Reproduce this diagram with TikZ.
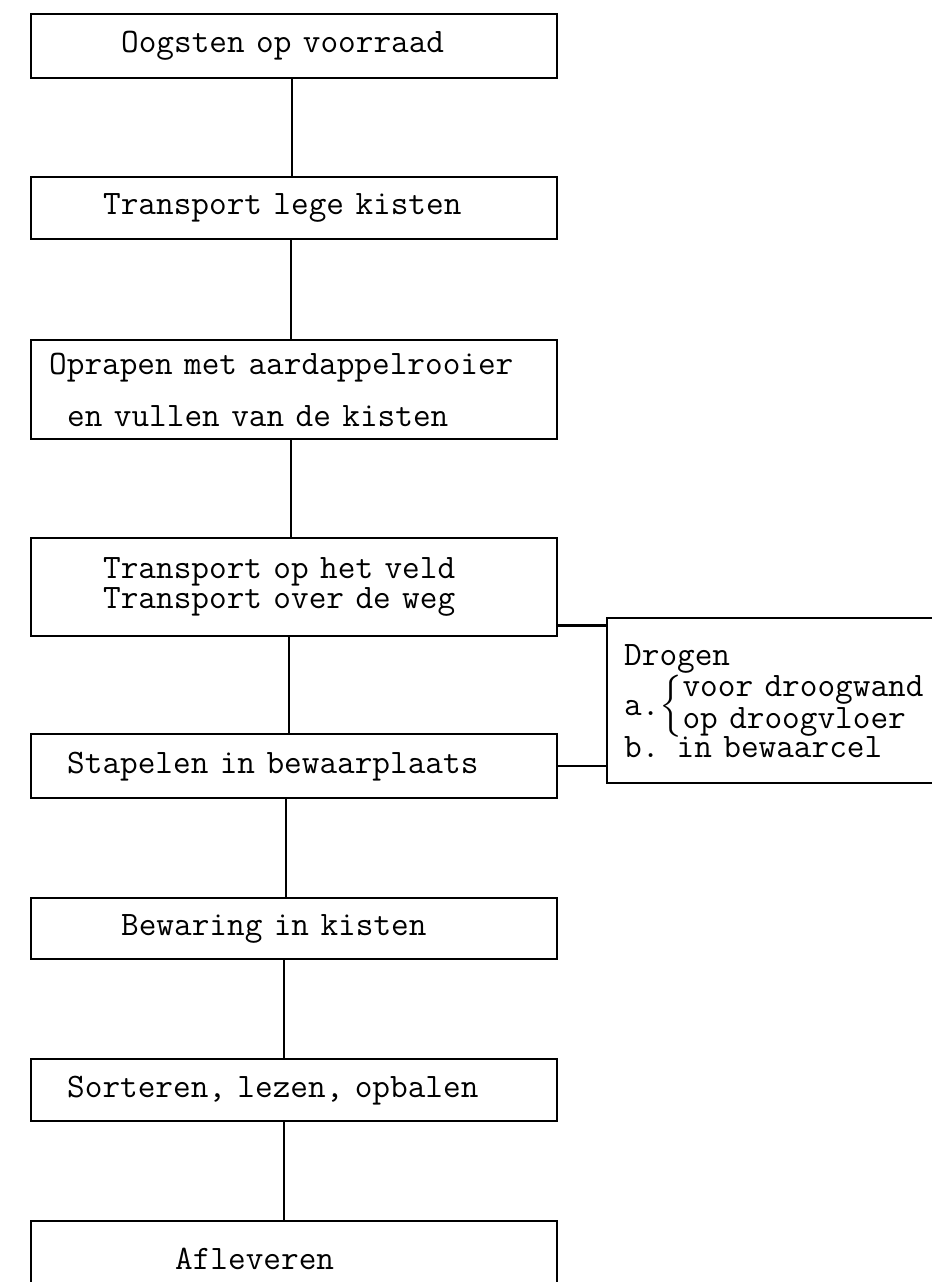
\documentclass[tikz,border=0pt]{standalone}
\usepackage{fontspec}
\usepackage{amsmath}
\newcommand{\ind}[1]{\hspace*{#1\dimexpr0.525em\relax}} % typed spaces

\begin{document}
\begin{tikzpicture}[
    x=0.5pt, y=-0.5pt,
    stepbox/.style={
        draw,
        line width=1.2pt,
        anchor=north west,
        minimum width=263pt,
        text width=263pt,   % text starts at the left edge, indented by \ind
        inner xsep=0pt,
        align=left,
        font=\ttfamily\fontsize{17.14pt}{15pt}\selectfont
    },
    link/.style={line width=1.2pt}
]
\useasboundingbox (0,0) rectangle (932,1282);
\clip (0,0) rectangle (932,1282);

\node[stepbox, minimum height=32pt] (oogsten) at (30,13) {\ind{5}Oogsten op voorraad};
\node[stepbox, minimum height=31pt] (lege) at (30,176) {\ind{4}Transport lege kisten};
\node[stepbox, minimum height=49.5pt] (oprapen) at (30,339)
    {\ind{1}Oprapen met aardappelrooier\\[11pt]\ind{2}en vullen van de kisten};
\node[stepbox, minimum height=49pt] (vervoer) at (30,537)
    {\ind{4}Transport op het veld\\\ind{4}Transport over de weg};
\node[stepbox, minimum height=32pt] (stapelen) at (30,733) {\ind{2}Stapelen in bewaarplaats};
\node[stepbox, minimum height=30.5pt] (bewaring) at (30,897) {\ind{5}Bewaring in kisten};
\node[stepbox, minimum height=31pt] (sorteren) at (30,1058) {\ind{2}Sorteren, lezen, opbalen};
\node[stepbox, minimum height=38pt] (afleveren) at (30,1220) {\ind{8}Afleveren};

% side box, runs off the right edge
\node[stepbox, minimum width=200pt, text width=183pt, inner xsep=8.5pt,
      minimum height=82.5pt] (drogen) at (606,617)
    {Drogen\\[10pt]
     \smash{a.$\Big\{$\renewcommand{\arraystretch}{1.05}%
       \begin{tabular}[c]{@{}l@{}}voor droogwand\\op droogvloer\end{tabular}}\\[6pt]
     b. in bewaarcel};

\draw[link] ([xshift=-1pt]oogsten.south) -- ([xshift=-1pt]lege.north);
\draw[link] ([xshift=-1.5pt]lege.south) -- ([xshift=-1.5pt]oprapen.north);
\draw[link] ([xshift=-1.5pt]oprapen.south) -- ([xshift=-1.5pt]vervoer.north);
\draw[link] ([xshift=-2.5pt]vervoer.south) -- ([xshift=-2.5pt]stapelen.north);
\draw[link] ([xshift=-4pt]stapelen.south) -- ([xshift=-4pt]bewaring.north);
\draw[link] ([xshift=-5pt]bewaring.south) -- ([xshift=-5pt]sorteren.north);
\draw[link] ([xshift=-5pt]sorteren.south) -- ([xshift=-5pt]afleveren.north);

\coordinate (s1) at ([yshift=6pt]vervoer.south east);
\draw[link] (s1) -- (s1 -| drogen.west);
\draw[link] (stapelen.east) -- (stapelen.east -| drogen.west);
\end{tikzpicture}
\end{document}
